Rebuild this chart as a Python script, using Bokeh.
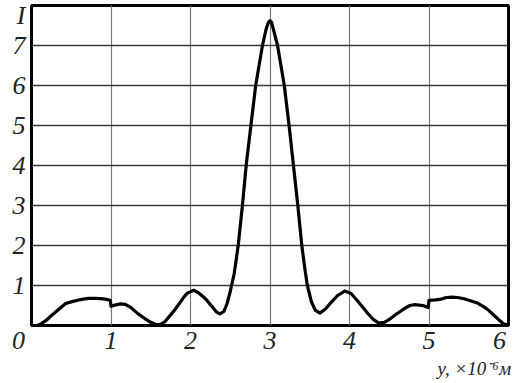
from bokeh.plotting import figure
from bokeh.models import FixedTicker, LinearAxis, Range1d
from bokeh.embed import file_html
from bokeh.resources import INLINE

# Data (x in 1e-6 m, intensity I)
y_pos = [0.07, 0.12, 0.18, 0.24, 0.30, 0.37, 0.43, 0.50, 0.58, 0.65, 0.72, 0.80, 0.87, 0.93, 0.99,
         1.00, 1.05, 1.12, 1.18, 1.25, 1.33, 1.42, 1.50, 1.56, 1.62, 1.68, 1.74, 1.79, 1.86, 1.92,
         1.96, 2.04, 2.10, 2.16, 2.21, 2.28, 2.33, 2.37, 2.42, 2.46, 2.50, 2.55, 2.60, 2.653, 2.70,
         2.76, 2.82, 2.905, 2.95, 2.98, 3.00, 3.02, 3.05, 3.095, 3.18, 3.24, 3.295, 3.35, 3.40, 3.44,
         3.47, 3.52, 3.57, 3.63, 3.70, 3.77, 3.85, 3.94, 4.02, 4.10, 4.17, 4.23, 4.30, 4.37, 4.44,
         4.52, 4.60, 4.69, 4.76, 4.81, 4.88, 4.94, 4.99, 5.00, 5.08, 5.15, 5.22, 5.29, 5.36, 5.44,
         5.52, 5.61, 5.68, 5.75, 5.82, 5.88, 5.94, 5.98, 6.00]
intensity = [0.00, 0.04, 0.12, 0.23, 0.33, 0.45, 0.55, 0.59, 0.63, 0.66, 0.68, 0.68, 0.67, 0.66, 0.63,
             0.48, 0.51, 0.54, 0.53, 0.45, 0.31, 0.18, 0.08, 0.03, 0.02, 0.10, 0.24, 0.36, 0.55, 0.72,
             0.81, 0.88, 0.82, 0.72, 0.62, 0.45, 0.33, 0.29, 0.35, 0.55, 0.85, 1.30, 2.00, 3.00, 4.00,
             5.00, 6.00, 7.00, 7.40, 7.58, 7.62, 7.58, 7.35, 7.00, 6.00, 5.00, 4.00, 3.00, 2.00, 1.40,
             1.00, 0.60, 0.38, 0.31, 0.42, 0.58, 0.75, 0.86, 0.80, 0.62, 0.45, 0.30, 0.15, 0.06, 0.08,
             0.18, 0.30, 0.42, 0.50, 0.52, 0.51, 0.49, 0.45, 0.63, 0.64, 0.66, 0.70, 0.71, 0.70, 0.67,
             0.62, 0.56, 0.48, 0.38, 0.25, 0.14, 0.04, 0.02, 0.02]

# grid positions
x_grid = [1, 2, 3, 4, 5, 6]
y_grid = [1, 2, 3, 4, 5, 6, 7]
# tick labels (the "0" sits at the origin corner, "I" names the vertical axis at its top)
x_tick_pos = [0, 1, 2, 3, 4, 5, 6]
x_tick_text = ["0\u2002\u2002", "1", "2", "3", "4", "5", "6\u2002\u2009"]
y_tick_pos = [1, 2, 3, 4, 5, 6, 7, 7.82]
y_tick_text = ["1", "2", "3", "4", "5", "6", "7", "I"]
x_title = "y, ×10⁻⁶м"
x_title_pos = 5.57

FONT = "Liberation Serif"
LABEL_SIZE = "26px"

p = figure(width=525, height=381, x_range=Range1d(0, 6), y_range=Range1d(0, 8),
           output_backend="svg", toolbar_location=None,
           min_border_left=31, min_border_right=17, min_border_top=5, min_border_bottom=56)

p.background_fill_color = "white"
p.border_fill_color = "white"
p.outline_line_color = "black"
p.outline_line_width = 3

p.xaxis.ticker = FixedTicker(ticks=x_tick_pos)
p.xaxis.major_label_overrides = dict(zip(x_tick_pos, x_tick_text))
p.yaxis.ticker = FixedTicker(ticks=y_tick_pos)
p.yaxis.major_label_overrides = dict(zip(y_tick_pos, y_tick_text))

title_axis = LinearAxis(ticker=FixedTicker(ticks=[x_title_pos]),
                        major_label_overrides={x_title_pos: x_title})
p.add_layout(title_axis, "below")

for ax in (p.xaxis[0], p.yaxis[0], title_axis):
    ax.axis_line_color = None
    ax.major_tick_line_color = None
    ax.minor_tick_line_color = None
    ax.major_tick_out = 0
    ax.major_tick_in = 0
    ax.minor_tick_out = 0
    ax.minor_tick_in = 0
    ax.major_label_text_font = FONT
    ax.major_label_text_font_style = "italic"
    ax.major_label_text_font_size = LABEL_SIZE
    ax.major_label_text_color = "#222222"
title_axis.major_label_text_font_size = "19px"
title_axis.major_label_standoff = 0
p.xaxis[0].major_label_standoff = 0
p.yaxis[0].major_label_standoff = 6

p.xgrid.ticker = FixedTicker(ticks=x_grid)
p.ygrid.ticker = FixedTicker(ticks=y_grid)
p.xgrid.grid_line_color = "#7a7a7a"
p.xgrid.grid_line_width = 1.2
p.ygrid.grid_line_color = "#3a3a3a"
p.ygrid.grid_line_width = 1.5

p.line(y_pos, intensity, line_width=3.2, color="black", line_join="round")

open("out.html", "w").write(file_html(p, INLINE))
